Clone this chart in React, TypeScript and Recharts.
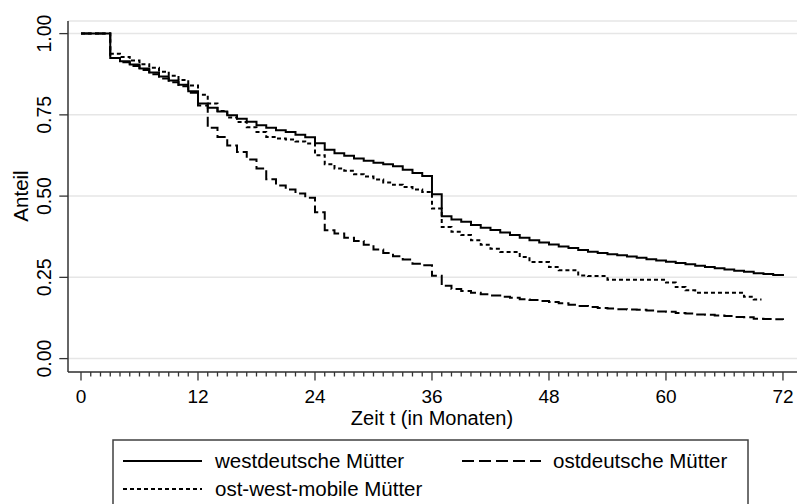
import React from "react"
import { CartesianGrid, Line, LineChart, XAxis, YAxis } from "recharts"

// Monate 0..72
const months = [
  0, 1, 2, 3, 4, 5, 6, 7, 8, 9, 10, 11, 12, 13, 14, 15, 16, 17, 18, 19, 20, 21, 22, 23, 24, 25, 26, 27, 28, 29, 30,
  31, 32, 33, 34, 35, 36, 37, 38, 39, 40, 41, 42, 43, 44, 45, 46, 47, 48, 49, 50, 51, 52, 53, 54, 55, 56, 57, 58, 59,
  60, 61, 62, 63, 64, 65, 66, 67, 68, 69, 70, 71, 72,
]

const yTicks = [0, 0.25, 0.5, 0.75, 1]

// westdeutsche Mütter
const west = [
  1, 1, 1, 0.925, 0.915, 0.905, 0.893, 0.88, 0.868, 0.856, 0.843, 0.823, 0.785, 0.772, 0.76, 0.749, 0.738, 0.729,
  0.718, 0.71, 0.703, 0.697, 0.689, 0.681, 0.663, 0.643, 0.632, 0.624, 0.616, 0.609, 0.603, 0.598, 0.592, 0.581,
  0.571, 0.562, 0.506, 0.438, 0.428, 0.421, 0.411, 0.403, 0.396, 0.388, 0.38, 0.372, 0.364, 0.357, 0.351, 0.345,
  0.34, 0.334, 0.329, 0.325, 0.321, 0.318, 0.314, 0.31, 0.306, 0.302, 0.298, 0.294, 0.29, 0.286, 0.282, 0.278, 0.274,
  0.27, 0.267, 0.263, 0.26, 0.257, 0.254,
]

// ostdeutsche Mütter
const ost = [
  1, 1, 1, 0.925, 0.912, 0.9, 0.888, 0.875, 0.862, 0.85, 0.838, 0.818, 0.779, 0.71, 0.682, 0.656, 0.636, 0.613,
  0.585, 0.552, 0.533, 0.52, 0.508, 0.495, 0.45, 0.395, 0.385, 0.372, 0.362, 0.35, 0.336, 0.325, 0.315, 0.305, 0.292,
  0.287, 0.255, 0.224, 0.214, 0.208, 0.203, 0.198, 0.194, 0.19, 0.187, 0.183, 0.18, 0.177, 0.174, 0.17, 0.166, 0.162,
  0.159, 0.156, 0.154, 0.152, 0.151, 0.15, 0.148, 0.145, 0.144, 0.14, 0.139, 0.136, 0.135, 0.133, 0.131, 0.128, 0.127,
  0.123, 0.122, 0.121, 0.119,
]

// ost-west-mobile Mütter (Monate 0..69, endet bei 69.8)
const mobile = [
  1, 1, 1, 0.938, 0.928, 0.917, 0.906, 0.895, 0.883, 0.87, 0.857, 0.84, 0.812, 0.785, 0.762, 0.742, 0.728, 0.712,
  0.697, 0.682, 0.677, 0.674, 0.668, 0.662, 0.626, 0.598, 0.585, 0.578, 0.567, 0.56, 0.551, 0.542, 0.535, 0.528, 0.52,
  0.513, 0.462, 0.405, 0.39, 0.38, 0.364, 0.35, 0.338, 0.328, 0.328, 0.313, 0.297, 0.297, 0.282, 0.272, 0.272, 0.256,
  0.254, 0.254, 0.243, 0.243, 0.243, 0.243, 0.243, 0.243, 0.234, 0.22, 0.21, 0.203, 0.203, 0.203, 0.203, 0.203, 0.19,
  0.182,
]
const mobileEnd = 69.8

const FONT = "'Liberation Sans', Arial, Helvetica, sans-serif"
const AXIS = "#333"

const westData = west.map((v, i) => ({ t: months[i], v }))
const ostData = ost.map((v, i) => ({ t: months[i], v }))
const mobileData = mobile
  .map((v, i) => ({ t: months[i], v }))
  .concat([{ t: mobileEnd, v: mobile[mobile.length - 1] }])

const XTick = ({ x, y, payload }: any) => {
  const major = payload.value % 12 === 0
  return (
    <g>
      <line x1={x} x2={x} y1={y} y2={y + (major ? 8.5 : 4.5)} stroke={AXIS} strokeWidth={1.3} />
      {major && (
        <text x={x} y={y + 30.5} textAnchor="middle" fontSize={19} fontFamily={FONT} fill="#000">
          {payload.value}
        </text>
      )}
    </g>
  )
}

const YTick = ({ x, y, payload }: any) => (
  <g>
    <line x1={x - 8.7} x2={x} y1={y} y2={y} stroke={AXIS} strokeWidth={1.3} />
    <text
      x={x - 16.5}
      y={y}
      transform={`rotate(-90, ${x - 16.5}, ${y})`}
      textAnchor="middle"
      fontSize={19.5}
      fontFamily={FONT}
      fill="#000"
    >
      {payload.value.toFixed(2)}
    </text>
  </g>
)

export default function App() {
  return (
    <div style={{ position: "absolute", left: 0, top: 0, width: 797, height: 504, background: "#fff", overflow: "hidden" }}>
      <LineChart width={797} height={504} margin={{ top: 21, right: 0, left: 0, bottom: 72 }}>
        <CartesianGrid horizontal vertical={false} stroke="#e6e6e6" strokeWidth={1.5} />
        <XAxis
          dataKey="t"
          type="number"
          domain={[-4 / 3, 73.44]}
          allowDataOverflow
          ticks={months}
          interval={0}
          tick={<XTick />}
          tickSize={0}
          tickMargin={0}
          tickLine={false}
          axisLine={{ stroke: AXIS, strokeWidth: 1.5 }}
          height={60}
        />
        <YAxis
          type="number"
          domain={[-0.0412, 1.0388]}
          allowDataOverflow
          ticks={yTicks}
          interval={0}
          tick={<YTick />}
          tickSize={0}
          tickMargin={0}
          tickLine={false}
          axisLine={{ stroke: AXIS, strokeWidth: 1.5 }}
          width={68}
        />
        <Line data={westData} dataKey="v" type="stepAfter" stroke="#000" strokeWidth={2} dot={false} isAnimationActive={false} />
        <Line
          data={ostData}
          dataKey="v"
          type="stepAfter"
          stroke="#000"
          strokeWidth={2}
          strokeDasharray="10 4"
          dot={false}
          isAnimationActive={false}
        />
        <Line
          data={mobileData}
          dataKey="v"
          type="stepAfter"
          stroke="#000"
          strokeWidth={2}
          strokeDasharray="4 3"
          dot={false}
          isAnimationActive={false}
        />
      </LineChart>

      {/* Achsentitel und Legende */}
      <svg width={797} height={504} style={{ position: "absolute", left: 0, top: 0, pointerEvents: "none" }}>
        <text x={28} y={196} transform="rotate(-90, 28, 196)" textAnchor="middle" fontSize={20.5} fontFamily={FONT}>
          Anteil
        </text>
        <text x={432} y={424.5} textAnchor="middle" fontSize={20} fontFamily={FONT}>
          Zeit t (in Monaten)
        </text>
        <rect x={113} y={440} width={635} height={90} fill="#fff" stroke="#404040" strokeWidth={1.5} />
        <line x1={123} x2={202} y1={461} y2={461} stroke="#000" strokeWidth={2} />
        <text x={215} y={467.5} fontSize={20.5} fontFamily={FONT}>
          westdeutsche Mütter
        </text>
        <line x1={462} x2={541} y1={461} y2={461} stroke="#000" strokeWidth={2} strokeDasharray="12 5" />
        <text x={553} y={467.5} fontSize={20.5} fontFamily={FONT}>
          ostdeutsche Mütter
        </text>
        <line x1={123} x2={202} y1={489} y2={489} stroke="#000" strokeWidth={2} strokeDasharray="4 3" />
        <text x={215} y={495.5} fontSize={20.5} fontFamily={FONT}>
          ost-west-mobile Mütter
        </text>
      </svg>
    </div>
  )
}
